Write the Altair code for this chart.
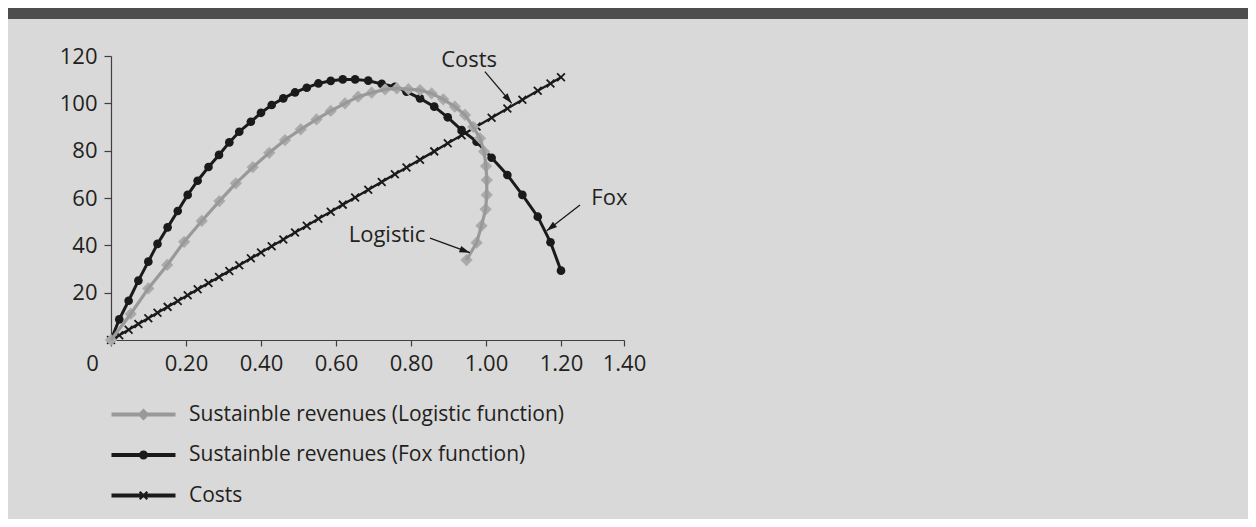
import math
import altair as alt
import pandas as pd

# ---------------- data ----------------
fox_x = [0, 0.022, 0.047, 0.073, 0.0995, 0.124, 0.151, 0.178, 0.2045, 0.231, 0.26, 0.288,
         0.3155, 0.342, 0.373, 0.40, 0.4285, 0.4595, 0.4907, 0.522, 0.553, 0.586, 0.618,
         0.651, 0.686, 0.722, 0.757, 0.788, 0.824, 0.862, 0.898, 0.935, 0.975, 1.015,
         1.057, 1.097, 1.138, 1.172, 1.2]
fox_y = [0, 8.7, 16.6, 25.1, 33.1, 40.6, 47.6, 54.5, 61.3, 67.3, 73.1, 78.2, 83.5, 88.0,
         92.2, 96.0, 99.3, 102.1, 104.6, 106.6, 108.4, 109.5, 110.1, 110.1, 109.6, 108.2,
         107.0, 104.9, 102.1, 98.6, 94.1, 88.7, 83.8, 77.0, 69.7, 61.3, 52.1, 41.3, 29.3]

logistic_x = [0, 0.0525, 0.0995, 0.15, 0.195, 0.242, 0.289, 0.333, 0.378, 0.422, 0.464,
              0.506, 0.548, 0.586, 0.624, 0.659, 0.695, 0.731, 0.762, 0.793, 0.824, 0.855,
              0.886, 0.917, 0.944, 0.966, 0.984, 0.995, 1.0, 1.002, 1.002, 0.999, 0.988,
              0.975, 0.948]
logistic_y = [0, 11.0, 21.8, 31.7, 41.5, 50.3, 58.7, 66.2, 73.0, 79.1, 84.5, 89.0, 93.2,
              96.8, 100.0, 102.8, 104.5, 105.9, 106.3, 106.0, 105.6, 104.2, 101.7, 98.6,
              95.1, 90.1, 85.2, 79.6, 73.5, 67.6, 61.3, 55.2, 48.3, 41.1, 33.8]

costs_x = [0, 0.022, 0.047, 0.073, 0.0995, 0.124, 0.151, 0.178, 0.2045, 0.231, 0.26, 0.288,
           0.3155, 0.342, 0.373, 0.40, 0.4285, 0.4595, 0.4907, 0.522, 0.553, 0.586, 0.618,
           0.651, 0.686, 0.722, 0.757, 0.788, 0.824, 0.862, 0.898, 0.935, 0.975, 1.015,
           1.057, 1.097, 1.138, 1.172, 1.2]
costs_y = [0, 2.0, 4.3, 6.8, 9.2, 11.5, 14.0, 16.5, 18.9, 21.4, 24.1, 26.6, 29.2, 31.6,
           34.5, 37.0, 39.6, 42.5, 45.4, 48.3, 51.2, 54.2, 57.2, 60.2, 63.5, 66.8, 70.0,
           72.9, 76.2, 79.7, 83.1, 86.5, 90.2, 93.9, 97.8, 101.5, 105.3, 108.4, 111.0]

series_names = ["Sustainble revenues (Logistic function)",
                "Sustainble revenues (Fox function)",
                "Costs"]

y_tick_values = [20, 40, 60, 80, 100, 120]
x_tick_values = [0, 0.2, 0.4, 0.6, 0.8, 1.0, 1.2, 1.368]
x_tick_labels = ["0", "0.20", "0.40", "0.60", "0.80", "1.00", "1.20", "1.40"]

label_text = ["Costs", "Fox", "Logistic"]
label_x = [0.955, 1.329, 0.736]
label_y = [118.3, 60.0, 44.4]
arrow_x = [0.997, 1.2507, 0.8507]
arrow_y = [113.4, 57.0, 43.0]
arrow_x2 = [1.0685, 1.162, 0.957]
arrow_y2 = [100.0, 46.2, 36.9]

# ---------------- style ----------------
FONT = "Open Sans"
INK = "#231f20"
BLACK = "#1a1a1a"
GRAY_LINE = "#999999"
GRAY_MARK = "#aaaaaa"
AXIS = "#3f3f3f"
BG = "#d9d9d9"
W, H = 513, 284
X_MAX, Y_MAX = 1.368, 120
PAD = {"left": 103, "top": 48, "right": 1240 - 103 - W, "bottom": 511 - 48 - H}


def frame(xs, ys):
    return pd.DataFrame({"x": xs, "y": ys, "i": list(range(len(xs)))})


fox_df = frame(fox_x, fox_y)
log_df = frame(logistic_x, logistic_y)
cost_df = frame(costs_x, costs_y)

px_x = W / X_MAX
px_y = H / Y_MAX
angles = []
for x1, y1, x2, y2 in zip(arrow_x, arrow_y, arrow_x2, arrow_y2):
    dx = (x2 - x1) * px_x
    dy = -(y2 - y1) * px_y
    angles.append(math.degrees(math.atan2(dx, -dy)) % 360)
arrow_df = pd.DataFrame({"x": arrow_x, "y": arrow_y, "x2": arrow_x2, "y2": arrow_y2,
                         "angle": angles})
label_df = pd.DataFrame({"x": label_x, "y": label_y, "t": label_text})

label_map = "[" + ",".join("'%s'" % s for s in x_tick_labels) + "]"
value_map = "[" + ",".join(str(v) for v in x_tick_values) + "]"

x_enc = alt.X("x:Q", scale=alt.Scale(domain=[0, X_MAX], nice=False, zero=False),
              axis=alt.Axis(values=x_tick_values, title=None, grid=False,
                            labelExpr=f"{label_map}[indexof({value_map}, datum.value)]",
                            domainColor=AXIS, tickColor=AXIS, tickSize=6, tickWidth=1.2,
                            domainWidth=1.2,
                            labelFont=FONT, labelFontSize=22, labelColor=INK,
                            labelPadding=7, labelFlush=False, labelOverlap=False,
                            labelOffset={"condition": {"test": "datum.value == 0", "value": -19},
                                         "value": 0}))
y_enc = alt.Y("y:Q", scale=alt.Scale(domain=[0, Y_MAX], nice=False),
              axis=alt.Axis(values=y_tick_values, title=None, grid=False,
                            domainColor=AXIS, tickColor=AXIS, tickSize=7, tickWidth=1.2,
                            domainWidth=1.2,
                            labelFont=FONT, labelFontSize=22, labelColor=INK,
                            labelPadding=7))

band = alt.Chart(pd.DataFrame({"a": [0]})).mark_rect(color="#4d4d4d").encode(
    x=alt.value(-PAD["left"]), x2=alt.value(W + PAD["right"]),
    y=alt.value(-PAD["top"]), y2=alt.value(-PAD["top"] + 11))

cost_line = alt.Chart(cost_df).mark_line(color=BLACK, strokeWidth=2.4).encode(
    x=x_enc, y=y_enc, order="i:Q")
cost_pts = alt.Chart(cost_df).mark_point(
    shape="M-1,-1L1,1M-1,1L1,-1", filled=False, size=60, strokeWidth=1.8,
    color=BLACK, opacity=1).encode(x=x_enc, y=y_enc)

fox_line = alt.Chart(fox_df).mark_line(color=BLACK, strokeWidth=3).encode(
    x=x_enc, y=y_enc, order="i:Q")
fox_pts = alt.Chart(fox_df).mark_point(shape="circle", filled=True, size=75,
                                       color=BLACK, opacity=1).encode(x=x_enc, y=y_enc)

log_pts = alt.Chart(log_df).mark_point(shape="diamond", filled=True, size=150,
                                       color=GRAY_MARK, opacity=1).encode(x=x_enc, y=y_enc)
log_line = alt.Chart(log_df).mark_line(color=GRAY_LINE, strokeWidth=3.2).encode(
    x=x_enc, y=y_enc, order="i:Q")

labels = alt.Chart(label_df).mark_text(font=FONT, fontSize=22, color=INK,
                                       align="center", baseline="middle").encode(
    x=x_enc, y=y_enc, text="t:N")
arrows = alt.Chart(arrow_df).mark_rule(color=BLACK, strokeWidth=1.3).encode(
    x=x_enc, y=y_enc, x2="x2:Q", y2="y2:Q")
heads = alt.Chart(arrow_df).mark_point(shape="M0,0L0.85,2.6L-0.85,2.6Z", filled=True,
                                       size=64, color=BLACK, opacity=1).encode(
    x=alt.X("x2:Q", scale=alt.Scale(domain=[0, X_MAX], nice=False, zero=False)),
    y=alt.Y("y2:Q", scale=alt.Scale(domain=[0, Y_MAX], nice=False)),
    angle=alt.Angle("angle:Q", scale=None))

# legend symbols: line with marker (custom paths, unit = sqrt(size)/2 px)
line_rect = "M-3.2,-0.2H3.2V0.2H-3.2Z"
sym_log = line_rect + " M0,-0.6L0.6,0L0,0.6L-0.6,0Z"
sym_fox = line_rect + " M0.45,0A0.45,0.45 0 1,1 -0.45,0A0.45,0.45 0 1,1 0.45,0Z"
sym_cost = (line_rect + " M-0.3,-0.46L0.46,0.3L0.3,0.46L-0.46,-0.3Z"
            " M-0.46,0.3L0.3,-0.46L0.46,-0.3L-0.3,0.46Z")

leg = alt.Legend(orient="none", legendX=22, legendY=348, title=None, padding=0,
                 symbolSize=400, symbolStrokeWidth=0, symbolOpacity=1,
                 labelFont=FONT, labelFontSize=21, labelColor=INK, labelOffset=35,
                 rowPadding=18.5, labelLimit=700)
legend_layer = alt.Chart(pd.DataFrame({"series": series_names, "x": [0, 0, 0],
                                       "y": [0, 0, 0]})).mark_point(
    filled=True, opacity=0).encode(
    x=x_enc, y=y_enc,
    color=alt.Color("series:N", scale=alt.Scale(domain=series_names,
                                                range=[GRAY_LINE, BLACK, BLACK]),
                    legend=leg, sort=series_names),
    shape=alt.Shape("series:N", scale=alt.Scale(domain=series_names,
                                                range=[sym_log, sym_fox, sym_cost]),
                    legend=leg, sort=series_names))

chart = alt.layer(band, cost_line, cost_pts, fox_line, fox_pts, log_pts, log_line,
                  labels, arrows, heads, legend_layer).properties(
    width=W, height=H, background=BG, padding=PAD,
    autosize=alt.AutoSizeParams(type="none")
).configure_view(stroke=None)

chart.save("out.html", embed_options={"renderer": "svg", "actions": False})
